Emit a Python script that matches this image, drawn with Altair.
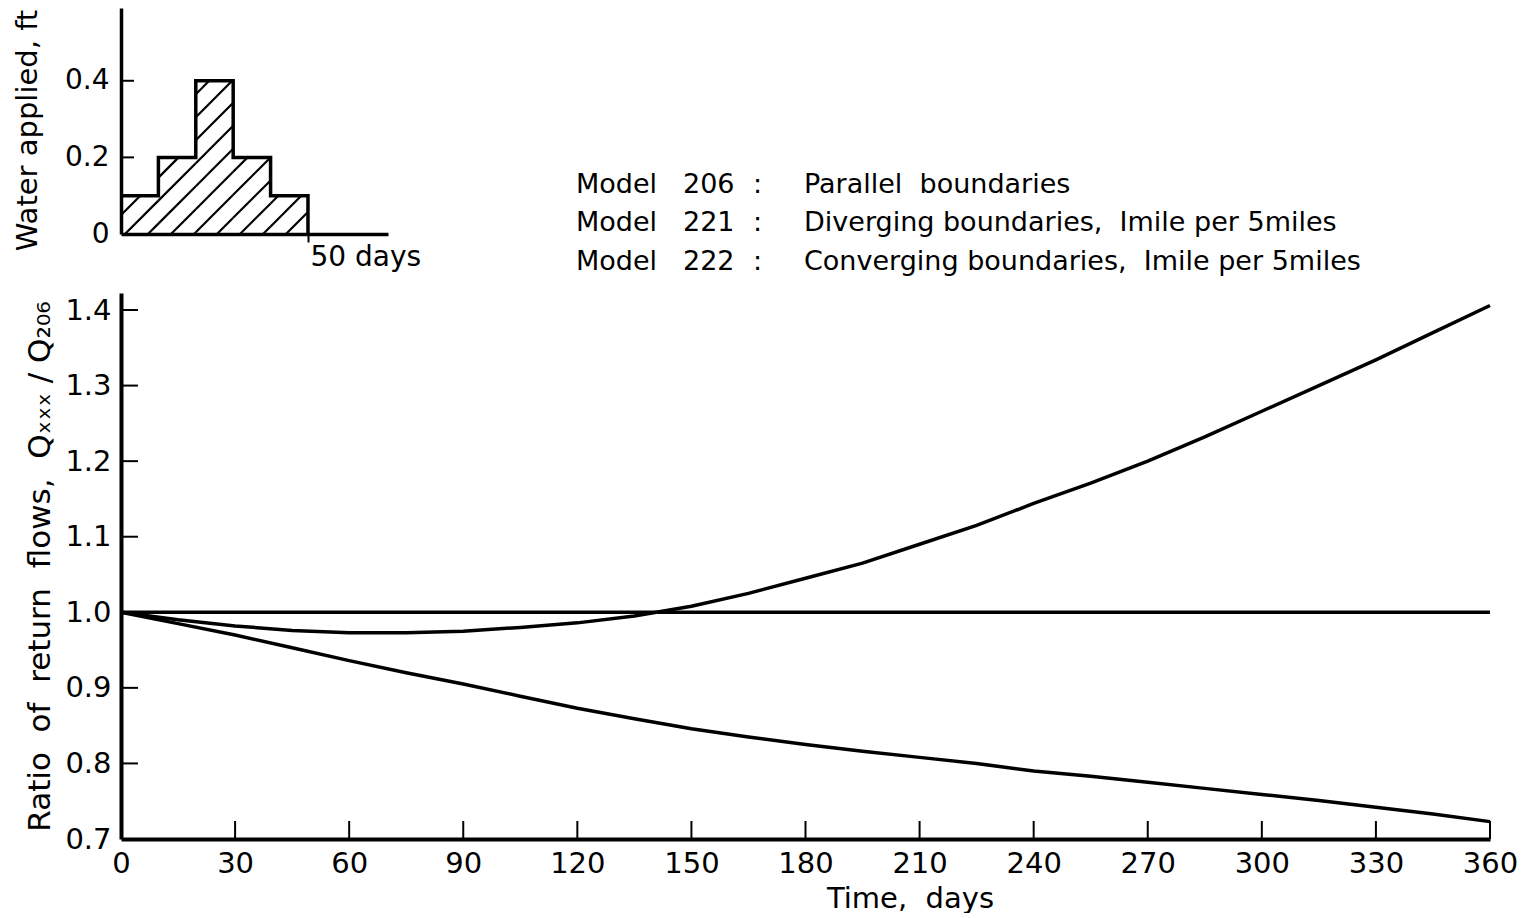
import altair as alt
import pandas as pd

# ---------------- data ----------------
days = [0, 15, 30, 45, 60, 75, 90, 105, 120, 135, 150, 165, 180,
        195, 210, 225, 240, 255, 270, 285, 300, 315, 330, 345, 360]
ratio_206 = [1.0] * 25
ratio_221 = [1.000, 0.990, 0.982, 0.976, 0.973, 0.973, 0.975, 0.980, 0.986,
             0.995, 1.008, 1.025, 1.045, 1.065, 1.090, 1.115, 1.144, 1.171,
             1.200, 1.232, 1.266, 1.300, 1.334, 1.370, 1.406]
ratio_222 = [1.000, 0.985, 0.970, 0.953, 0.936, 0.920, 0.905, 0.889, 0.873,
             0.859, 0.846, 0.835, 0.825, 0.816, 0.808, 0.800, 0.790, 0.783,
             0.775, 0.767, 0.759, 0.751, 0.742, 0.733, 0.723]

x_tick_values = [0, 30, 60, 90, 120, 150, 180, 210, 240, 270, 300, 330, 360]
y_tick_values = [0.7, 0.8, 0.9, 1.0, 1.1, 1.2, 1.3, 1.4]

applied_start = [0, 10, 20, 30, 40]
applied_end = [10, 20, 30, 40, 50]
applied_ft = [0.1, 0.2, 0.4, 0.2, 0.1]
inset_y_ticks = [0, 0.2, 0.4]
inset_x_ticks = [50]

models = ["206", "221", "222"]
descriptions = ["Parallel\u00a0 boundaries",
                "Diverging\u00a0boundaries,\u00a0 Imile\u00a0per\u00a05miles",
                "Converging\u00a0boundaries,\u00a0 Imile\u00a0per\u00a05miles"]

FONT = "DejaVu Sans"
NB = "\u00a0"
LW = 3.5

# ---------------- inset (water applied) ----------------
W_IN, H_IN = 267, 226
XD_IN = [0, 71.4]
YD_IN = [0, 0.59]
xs_in = alt.Scale(domain=XD_IN, nice=False, zero=False)
ys_in = alt.Scale(domain=YD_IN, nice=False)

ax_in_x = alt.Axis(values=inset_x_ticks, labelExpr="datum.value + '" + NB + "days'",
                   title=None, grid=False, domainWidth=3.5, domainColor="black",
                   tickSize=8, tickWidth=2, tickColor="black",
                   labelAlign="left", labelOffset=2, labelPadding=1,
                   labelFontSize=28, labelColor="black", labelFont=FONT)
ax_in_y = alt.Axis(values=inset_y_ticks,
                   labelExpr="datum.value == 0 ? '0' : format(datum.value, '.1f')",
                   title="Water" + NB + "applied," + NB + "ft", titleFontSize=29,
                   titleFont=FONT, titleFontWeight="normal", titleColor="black",
                   titlePadding=22, titleY=H_IN / 2 + 9,
                   grid=False, ticks=False, domainWidth=3.5, domainColor="black",
                   labelPadding=12, labelFontSize=28, labelColor="black",
                   labelFont=FONT)

# hatch lines (45 deg in screen space) clipped to each bar
kx = W_IN / (XD_IN[1] - XD_IN[0])
ky = H_IN / (YD_IN[1] - YD_IN[0])
spacing = 23.0
hatch = []
c = -H_IN
while c < W_IN:
    for s, e, h in zip(applied_start, applied_end, applied_ft):
        X0, X1, Yh = s * kx, e * kx, h * ky
        a = max(X0, c)
        b = min(X1, c + Yh)
        if b > a + 0.5:
            hatch.append({"x": a / kx, "y": (a - c) / ky,
                          "x2": b / kx, "y2": (b - c) / ky})
    c += spacing
hatch_df = pd.DataFrame(hatch)

hatch_layer = alt.Chart(hatch_df).mark_rule(color="black", strokeWidth=2.2).encode(
    x=alt.X("x:Q", scale=xs_in, axis=ax_in_x),
    y=alt.Y("y:Q", scale=ys_in, axis=ax_in_y),
    x2="x2:Q", y2="y2:Q")

step_df = pd.DataFrame({"day": applied_start + [applied_end[-1]],
                        "ft": applied_ft + [0]})
outline = alt.Chart(step_df).mark_line(color="black", strokeWidth=LW,
                                       interpolate="step-after").encode(
    x=alt.X("day:Q", scale=xs_in, axis=ax_in_x),
    y=alt.Y("ft:Q", scale=ys_in, axis=ax_in_y))

inset_tick_df = pd.DataFrame({"v": inset_y_ticks[1:]})
inset_ticks = alt.Chart(inset_tick_df).mark_rule(color="black", strokeWidth=2).encode(
    y=alt.Y("v:Q", scale=ys_in, axis=ax_in_y), x=alt.value(0), x2=alt.value(13))

# legend-like text block
text_layers = []
row_y = [177, 215, 254]
for i, (m, d) in enumerate(zip(models, descriptions)):
    tdf = pd.DataFrame({"a": ["Model"], "n": [m], "c": [":"], "d": [d]})
    base = alt.Chart(tdf).mark_text(font=FONT, fontSize=27, align="left",
                                    baseline="middle", color="black")
    text_layers += [
        base.encode(text="a:N", x=alt.value(455), y=alt.value(row_y[i])),
        base.encode(text="n:N", x=alt.value(562), y=alt.value(row_y[i])),
        base.encode(text="c:N", x=alt.value(632), y=alt.value(row_y[i])),
        base.encode(text="d:N", x=alt.value(683), y=alt.value(row_y[i])),
    ]

inset = alt.layer(hatch_layer, outline, inset_ticks, *text_layers).properties(
    width=W_IN, height=H_IN)

# ---------------- main chart ----------------
W, H = 1369, 546
xs = alt.Scale(domain=[0, 360], nice=False)
ys = alt.Scale(domain=[0.7, 1.4225], nice=False, zero=False)

rows = []
for name, vals in (("206", ratio_206), ("221", ratio_221), ("222", ratio_222)):
    for d, v in zip(days, vals):
        rows.append({"day": d, "ratio": v, "model": name})
curves_df = pd.DataFrame(rows)

y_title = ("Ratio" + NB + NB + "of" + NB + NB + "return" + NB + NB + "flows," + NB + NB +
           "Q\u2093\u2093\u2093" + NB + "/" + NB + "Q\u2082\u2080\u2086")

ax_x = alt.Axis(values=x_tick_values, grid=False, ticks=False,
                domainWidth=4, domainColor="black",
                labelPadding=10, labelFontSize=29, labelColor="black",
                labelFont=FONT, labelFlush=False,
                title="Time," + NB + NB + "days", titleFont=FONT,
                titleFontSize=29, titleFontWeight="normal", titleColor="black",
                titleX=789, titleY=68, titleBaseline="alphabetic")
ax_y = alt.Axis(values=y_tick_values, format=".1f", grid=False, ticks=False,
                domainWidth=4, domainColor="black",
                labelPadding=10, labelFontSize=29, labelColor="black",
                labelFont=FONT, labelFlush=False,
                title=y_title, titleFont=FONT, titleFontSize=31,
                titleFontWeight="normal", titleColor="black", titlePadding=8)

curves = alt.Chart(curves_df).mark_line(color="black", strokeWidth=LW).encode(
    x=alt.X("day:Q", scale=xs, axis=ax_x),
    y=alt.Y("ratio:Q", scale=ys, axis=ax_y),
    detail="model:N")

xt_df = pd.DataFrame({"v": x_tick_values[1:]})
x_ticks = alt.Chart(xt_df).mark_rule(color="black", strokeWidth=2).encode(
    x=alt.X("v:Q", scale=xs, axis=ax_x), y=alt.value(H), y2=alt.value(H - 18))
yt_df = pd.DataFrame({"v": y_tick_values[1:]})
y_ticks = alt.Chart(yt_df).mark_rule(color="black", strokeWidth=2).encode(
    y=alt.Y("v:Q", scale=ys, axis=ax_y), x=alt.value(0), x2=alt.value(17))

main = alt.layer(curves, x_ticks, y_ticks).properties(width=W, height=H)

chart = alt.vconcat(inset, main, spacing=18).properties(
    padding={"left": 5, "top": 0, "right": 0, "bottom": 0}
).configure(font=FONT, background="white").configure_view(stroke=None)

chart.save("out.html", embed_options={"renderer": "svg", "actions": False})
